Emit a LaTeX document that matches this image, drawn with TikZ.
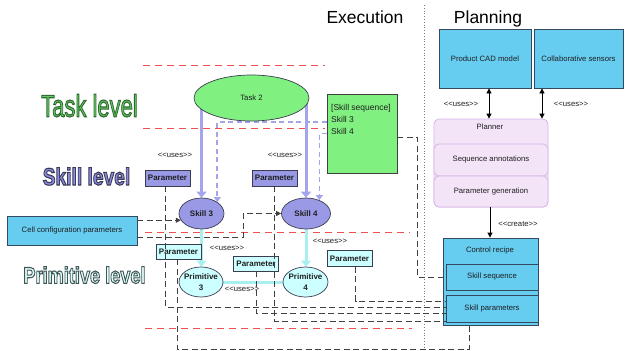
\documentclass[tikz,border=0pt]{standalone}
\usepackage{fontspec}
\setmainfont{Liberation Sans}
\usetikzlibrary{shapes.geometric,arrows.meta,backgrounds,calc}

\definecolor{redd}{HTML}{EE5050}
\definecolor{taskg}{HTML}{80F080}
\definecolor{skillp}{HTML}{9999E6}
\definecolor{primc}{HTML}{CCFFFF}
\definecolor{bluebox}{HTML}{66CCF0}
\definecolor{plfill}{HTML}{F3E4F8}
\definecolor{pldraw}{HTML}{D8B4E8}
\definecolor{lavarrow}{HTML}{A4A4EA}
\definecolor{cyanarrow}{HTML}{A8F0F0}
\definecolor{dgray}{HTML}{404040}
\definecolor{edge}{HTML}{3C3C50}
\definecolor{bedge}{HTML}{34495E}
\definecolor{tgf}{HTML}{66C866}
\definecolor{skf}{HTML}{8C8CDC}
\definecolor{prf}{HTML}{E6FFFF}

% outlined text: #1 stroke width, #2 stroke rgb, #3 fill colour, #4 text
\newcommand\outltext[4]{{\color{#3}\special{pdf:literal direct 2 Tr #1 w #2 RG}#4\special{pdf:literal direct 0 Tr}}}
\newcommand\usesl{<{}<uses>{}>}

\begin{document}
\begin{tikzpicture}[x=1pt,y=-1pt,
  font=\fontsize{7.7}{9}\selectfont, text=black!88,
  redline/.style={draw=redd, line width=1pt, dash pattern=on 7pt off 5pt},
  gline/.style={draw=dgray, line width=1pt, dash pattern=on 6pt off 3.5pt},
  gtip/.style={-{Triangle[length=5pt,width=5pt]}},
  lavthick/.style={draw=lavarrow, line width=3pt, -{Triangle[length=6pt,width=10pt]}},
  lavdash/.style={draw=lavarrow, line width=1.6pt, dash pattern=on 5pt off 3.5pt, -{Triangle[length=5pt,width=7pt]}},
  cyanthick/.style={draw=cyanarrow, line width=3pt, -{Triangle[length=6pt,width=10pt]}},
  cyanline/.style={draw=cyanarrow, line width=3pt},
  biarrow/.style={draw=black, line width=0.8pt, {Triangle[length=5pt,width=5pt]}-{Triangle[length=5pt,width=5pt]}},
  onearrow/.style={draw=black, line width=0.8pt, -{Triangle[length=5pt,width=5pt]}},
  ell/.style={ellipse, draw=edge, line width=0.7pt, inner sep=0pt, align=center},
  rect/.style={rectangle, draw=bedge, line width=0.8pt, inner sep=0pt},
  param/.style={rectangle, draw=edge, line width=0.7pt, minimum width=45pt, minimum height=16pt, inner sep=0pt, font=\bfseries\fontsize{8}{9}\selectfont},
  plsub/.style={rectangle, rounded corners=5pt, draw=pldraw, fill=plfill, line width=0.8pt, minimum width=114pt, inner sep=0pt},
  titletxt/.style={anchor=base, font=\fontsize{17.5}{20}\selectfont, text=black},
  lbl/.style={inner sep=0pt}
]
\useasboundingbox (0,0) rectangle (625,351);

% titles
\node[titletxt] (exec) at (365,23) {Execution};
\node[titletxt] (plan) at (488,23) {Planning};

% level labels
\node[anchor=base, inner sep=0pt] (tasklvl) at (89.5,116.7)
  {\scalebox{0.71}[1]{\fontsize{31}{31}\selectfont\outltext{1.1}{0.18 0.42 0.18}{tgf}{Task level}}};
\node[anchor=base, inner sep=0pt] (skilllvl) at (86.5,185)
  {\scalebox{0.8}[1]{\fontsize{24}{24}\selectfont\bfseries\outltext{1.1}{0.23 0.23 0.35}{skf}{Skill level}}};
\node[anchor=base, inner sep=0pt] (primlvl) at (84.5,283.3)
  {\scalebox{0.79}[1]{\fontsize{23}{23}\selectfont\bfseries\outltext{1.1}{0.24 0.34 0.34}{prf}{Primitive level}}};

% execution nodes
\node[ell, fill=taskg, minimum width=115pt, minimum height=46pt] (task2) at (251.5,98) {Task 2};
\node[rectangle, draw=dgray, line width=0.8pt, fill=taskg, minimum width=70pt, minimum height=79pt, inner sep=0pt] (greenbox) at (362,133.5) {};
\node[anchor=north west, align=left, inner sep=0pt, font=\fontsize{8.5}{12}\selectfont] (greentxt) at (331,104) {[Skill sequence]\\Skill 3\\Skill 4};

\node[ell, fill=skillp, minimum width=45pt, minimum height=31pt, font=\bfseries\fontsize{8}{9}\selectfont] (skill3) at (201.5,213.5) {Skill 3};
\node[ell, fill=skillp, minimum width=49pt, minimum height=31pt, font=\bfseries\fontsize{8}{9}\selectfont] (skill4) at (306,213.5) {Skill 4};

\node[ell, fill=primc, minimum width=44pt, minimum height=30pt, font=\bfseries\fontsize{8}{11}\selectfont] (prim3) at (201,282) {\makebox[0pt]{Primitive}\\\makebox[0pt]{3}};
\node[ell, fill=primc, minimum width=45pt, minimum height=30pt, font=\bfseries\fontsize{8}{11}\selectfont] (prim4) at (305.5,282) {\makebox[0pt]{Primitive}\\\makebox[0pt]{4}};

\node[param, fill=skillp] (pS1) at (167.5,178) {Parameter};
\node[param, fill=skillp] (pS2) at (274.5,178) {Parameter};
\node[param, fill=primc, minimum height=15pt] (pC1) at (178.5,251.5) {Parameter};
\node[param, fill=primc, minimum height=15pt] (pC2) at (256,263.5) {Parameter};
\node[param, fill=primc] (pC3) at (349.5,258.5) {Parameter};

\node[rect, fill=bluebox, minimum width=130pt, minimum height=29pt] (cell) at (72,230.5) {Cell configuration parameters};

% planning nodes
\node[rect, fill=bluebox, minimum width=92pt, minimum height=59pt] (cad) at (485,58.5) {Product CAD model};
\node[rect, fill=bluebox, minimum width=89pt, minimum height=59pt] (collab) at (578.5,58.5) {Collaborative sensors};

\node[plsub, minimum height=88pt] (plbox) at (491,163) {};
\node[lbl] (pltitle) at (490,126.5) {Planner};
\node[plsub, minimum height=32pt] (seqann) at (491,160) {Sequence annotations};
\node[plsub, minimum height=31pt] (pargen) at (491,191.5) {Parameter generation};

\node[rect, fill=bluebox, minimum width=95pt, minimum height=87pt] (crbox) at (490.5,281.5) {};
\node[lbl] (crtitle) at (490,250.5) {Control recipe};
\node[rect, fill=bluebox, minimum width=92pt, minimum height=26pt] (skillseq) at (492,277) {Skill sequence};
\node[rect, fill=bluebox, minimum width=92pt, minimum height=27pt] (skillpar) at (492,308.5) {Skill parameters};

% labels
\node[lbl] (u1) at (175,155) {\usesl};
\node[lbl] (u2) at (285,155) {\usesl};
\node[lbl] (u3) at (227,248) {\usesl};
\node[lbl] (u4) at (330,241) {\usesl};
\node[lbl] (u5) at (242,289) {\usesl};
\node[lbl] (u6) at (461,104) {\usesl};
\node[lbl] (u7) at (571,104) {\usesl};
\node[lbl] (cr) at (518,224) {<{}<create>{}>};

% background lines
\begin{scope}[on background layer]
  \draw[redline] (143,65) -- (325,65);
  \draw[redline] (143,128) -- (325,128);
  \draw[redline] (145,232) -- (410,232);
  \draw[redline] (145,328) -- (412,328);
  \draw[dgray!70, line width=0.8pt, dotted] (424,5) -- (424,351);
  \draw[lavthick] (task2.center -| skill3.north) -- (skill3.north);
  \draw[lavthick] (task2.center -| skill4.north) -- (skill4.north);
  \draw[lavdash] (greenbox.west |- 0,122) -| (skill3.36);
  \draw[lavdash] (greenbox.west |- 0,133.5) -| (skill4.45);
  \draw[cyanthick] (skill3.south) -- (skill3.south |- prim3.north);
  \draw[cyanthick] (skill4.south) -- (skill4.south |- prim4.north);
  \draw[cyanline] (prim3.east) -- (prim4.west);
\end{scope}

% planning arrows
\draw[biarrow] (cad.south -| 489,0) -- (plbox.north -| 489,0);
\draw[biarrow] (collab.south -| 542,0) -- (plbox.north -| 542,0);
\draw[onearrow] (pargen.south -| 490,0) -- (crbox.north -| 490,0);

% dashed connectors
\draw[gline, gtip] (cell.east |- skill3.198) -- (skill3.198);
\draw[gline, gtip] (cell.east |- 0,237) -| ([xshift=-38pt]skill4.west) -- (skill4.west);
\draw[gline] ([xshift=-2.5pt]pS1.south) |- (skillpar.west |- 0,307);
\draw[gline] (pS2.south) |- (skillpar.west |- 0,321);
\draw[gline] ([xshift=-1.5pt]pC1.south) |- ([xshift=-23pt]skillpar.south |- 0,349) -- ([xshift=-23pt]skillpar.south);
\draw[gline] (pC2.south) |- (skillpar.west |- 0,313);
\draw[gline] ([xshift=6pt]pC3.south) |- (skillpar.west |- 0,301);
\draw[gline] (greenbox.east |- 0,137) -- ++(20,0) |- (skillseq.west);
\end{tikzpicture}
\end{document}
